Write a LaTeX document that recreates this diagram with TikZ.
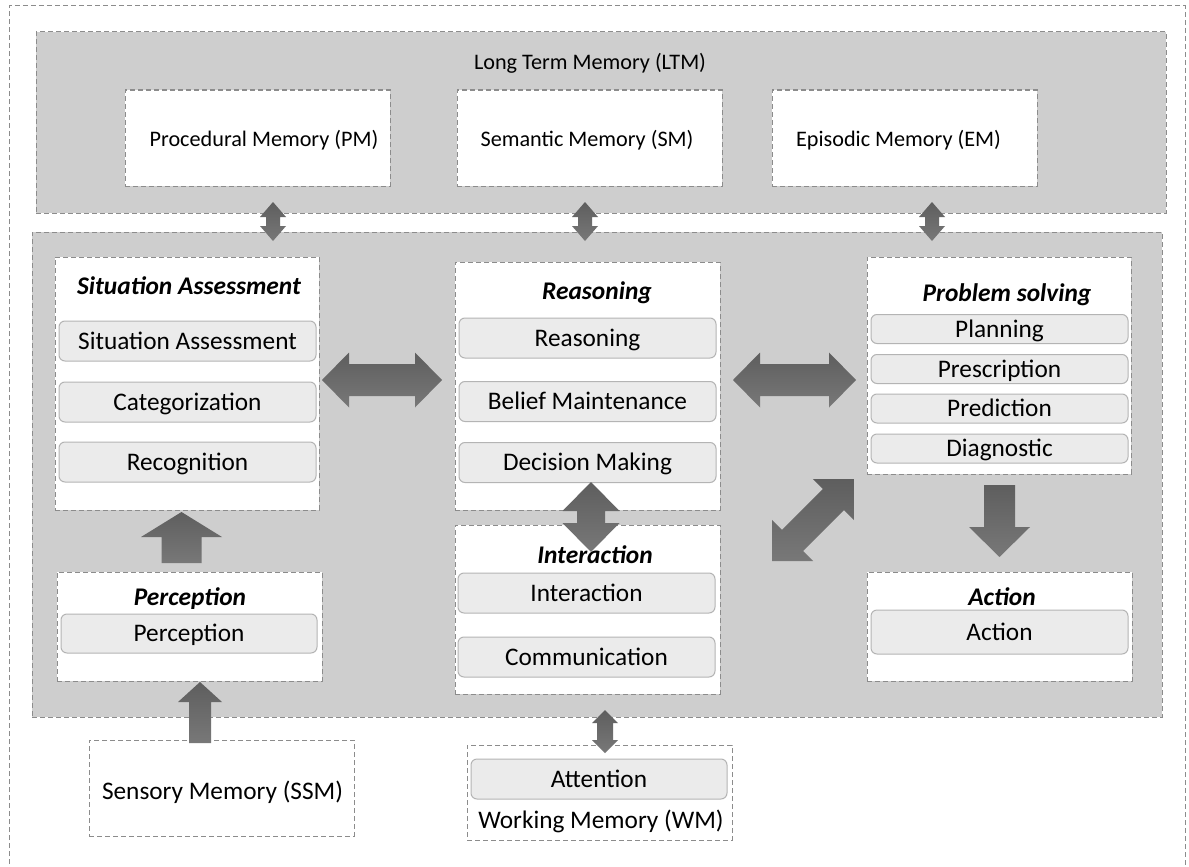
\documentclass[tikz,border=0pt]{standalone}
\usepackage{fontspec}
\setmainfont{Carlito}
\usetikzlibrary{calc}

\definecolor{bggray}{HTML}{CECECE}
\definecolor{dashcol}{HTML}{8C8C8C}
\definecolor{subfill}{HTML}{EBEBEB}
\definecolor{subline}{HTML}{B4B4B4}
\definecolor{arrowA}{HTML}{5E5E5E}
\definecolor{arrowB}{HTML}{787878}

\newcommand\fsub{\fontsize{25.3pt}{29pt}\selectfont}
\newcommand\fttl{\fontsize{25.4pt}{29pt}\selectfont\bfseries\itshape}
\newcommand\flbl{\fontsize{22.2pt}{26pt}\selectfont}
\newcommand\fbig{\fontsize{25.3pt}{29pt}\selectfont}

% block double arrow between two tips:
% #1,#2 tips; #3 shaft half width; #4 head half width; #5 head length
\newcommand\dblarrow[5]{%
  \path ($(#1)!#5!(#2)$) coordinate (ha) ($(#2)!#5!(#1)$) coordinate (hb);
  \shade[arrowshade] (#1) -- ($(ha)!#4!90:(#2)$) -- ($(ha)!#3!90:(#2)$)
    -- ($(hb)!#3!-90:(#1)$) -- ($(hb)!#4!-90:(#1)$) -- (#2)
    -- ($(hb)!#4!90:(#1)$) -- ($(hb)!#3!90:(#1)$)
    -- ($(ha)!#3!-90:(#2)$) -- ($(ha)!#4!-90:(#2)$) -- cycle;
}
% block single arrow: #1 tail, #2 tip; #3 shaft half width; #4 head half width; #5 head length
\newcommand\sglarrow[5]{%
  \path ($(#2)!#5!(#1)$) coordinate (hb);
  \shade[arrowshade] ($(#1)!#3!90:(#2)$) -- ($(hb)!#3!-90:(#1)$)
    -- ($(hb)!#4!-90:(#1)$) -- (#2) -- ($(hb)!#4!90:(#1)$)
    -- ($(hb)!#3!90:(#1)$) -- ($(#1)!#3!-90:(#2)$) -- cycle;
}

\begin{document}
\begin{tikzpicture}[x=1pt,y=-1pt,
  capbig/.style={text height=20pt, text depth=4pt},
  capsmall/.style={text height=18pt, text depth=4pt},
  dbox/.style={draw=dashcol, dash pattern=on 5pt off 3pt, line width=1pt,
    fill=white, inner sep=0pt, outer sep=0pt},
  panel/.style={dbox, fill=bggray},
  entry/.style={draw=subline, fill=subfill, rounded corners=6pt, line width=1pt,
    inner sep=0pt, minimum width=257pt, minimum height=40pt, font=\fsub, capbig},
  headtext/.style={inner sep=0pt, font=\fttl, capbig},
  lbltext/.style={inner sep=0pt, font=\flbl, capsmall},
  bigtext/.style={inner sep=0pt, font=\fbig, capbig},
  arrowshade/.style={top color=arrowA, bottom color=arrowB, draw=none}
]
\useasboundingbox (0,0) rectangle (1189,867);
\fill[white] (0,0) rectangle (1189,867);

% outer frame
\draw[draw=dashcol, dash pattern=on 5pt off 3pt, line width=1pt]
  (9,880) -- (9,6) -- (1185,6) -- (1185,880);

% long term memory
\node[panel, minimum width=1130pt, minimum height=181pt] (ltm) at (601,122.5) {};
\node[lbltext] (ltmlabel) at (590,63) {Long Term Memory (LTM)};
\node[dbox, minimum width=265pt, minimum height=96pt] (pm) at (257.5,138) {};
\node[dbox, minimum width=265pt, minimum height=96pt] (sm) at (589.5,138) {};
\node[dbox, minimum width=265pt, minimum height=96pt] (em) at (904.5,138) {};
\node[lbltext] (pmtext) at (264,139.5) {Procedural Memory (PM)};
\node[lbltext] (smtext) at (587,139.5) {Semantic Memory (SM)};
\node[lbltext] (emtext) at (898.5,139.5) {Episodic Memory (EM)};

% processing panel
\node[panel, minimum width=1130pt, minimum height=485pt] (proc) at (597,474.5) {};

% situation assessment
\node[dbox, minimum width=264pt, minimum height=253pt] (sa) at (187,383.5) {};
\node[headtext] (sat) at (189,286.5) {Situation Assessment};
\node[entry] (sa1) at (187.5,341) {Situation Assessment};
\node[entry] (sa2) at (187.5,402) {Categorization};
\node[entry] (sa3) at (187.5,462) {Recognition};

% reasoning
\node[dbox, minimum width=265pt, minimum height=248pt] (rs) at (587.5,386) {};
\node[headtext] (rst) at (597,291.5) {Reasoning};
\node[entry] (rs1) at (587.5,338) {Reasoning};
\node[entry] (rs2) at (587.5,401.5) {Belief Maintenance};
\node[entry] (rs3) at (587.5,462.5) {Decision Making};

% problem solving
\node[dbox, minimum width=264pt, minimum height=217pt] (ps) at (999,365.5) {};
\node[headtext] (pst) at (1007,293.5) {Problem solving};
\node[entry, minimum height=29pt] (ps1) at (999.5,329) {Planning};
\node[entry, minimum height=29pt] (ps2) at (999.5,369) {Prescription};
\node[entry, minimum height=29pt] (ps3) at (999.5,408.5) {Prediction};
\node[entry, minimum height=29pt] (ps4) at (999.5,448.5) {Diagnostic};

% action
\node[dbox, minimum width=265pt, minimum height=109pt] (ac) at (999.5,626.5) {};
\node[headtext] (act) at (1002,597.5) {Action};
\node[entry, minimum height=44pt] (ac1) at (999.5,632) {Action};

% interaction
\node[dbox, minimum width=265pt, minimum height=169pt] (it) at (587.5,609.5) {};
\node[headtext] (itt) at (595,555) {Interaction};
\node[entry] (it1) at (586.5,593) {Interaction};
\node[entry] (it2) at (586.5,657) {Communication};

% perception
\node[dbox, minimum width=265pt, minimum height=109pt] (pc) at (189.5,626.5) {};
\node[headtext] (pct) at (190,597.5) {Perception};
\node[entry, minimum width=256pt, minimum height=39pt] (pc1) at (189,633.5) {Perception};

% sensory and working memory
\node[dbox, minimum width=265pt, minimum height=96pt] (ssm) at (221.5,788) {};
\node[bigtext] (ssmtext) at (222.5,791) {Sensory Memory (SSM)};
\node[dbox, minimum width=265pt, minimum height=95pt] (wm) at (599.5,792.5) {};
\node[entry, minimum width=256pt] (wm1) at (599,779) {Attention};
\node[bigtext] (wmlabel) at (601,820) {Working Memory (WM)};

% arrow end points
\coordinate (pmA) at (273,202);  \coordinate (pmB) at (273,241);
\coordinate (smA) at (585,202);  \coordinate (smB) at (585,241);
\coordinate (emA) at (932,202);  \coordinate (emB) at (932,241);
\coordinate (saE) at (322,380);  \coordinate (rsW) at (442,380);
\coordinate (rsE) at (733,380);  \coordinate (psW) at (856,380);
\coordinate (rsS) at (591,482);  \coordinate (itN) at (591,552);
\coordinate (dgA) at (772,561);  \coordinate (dgB) at (854,479);
\coordinate (psS) at (999.5,485); \coordinate (acN) at (999.5,557);
\coordinate (pcN) at (181.5,563); \coordinate (saS) at (181.5,512);
\coordinate (ssmN) at (200,743); \coordinate (pcS) at (200,682);
\coordinate (prS) at (605,710);  \coordinate (wmN) at (605,753);

% arrows
\dblarrow{pmA}{pmB}{7pt}{13pt}{15pt}
\dblarrow{smA}{smB}{7pt}{13pt}{15pt}
\dblarrow{emA}{emB}{7pt}{13pt}{15pt}
\dblarrow{saE}{rsW}{16pt}{27.5pt}{27pt}
\dblarrow{rsE}{psW}{16pt}{27.5pt}{27pt}
\dblarrow{rsS}{itN}{14pt}{28.5pt}{29pt}
\dblarrow{dgA}{dgB}{15pt}{29pt}{29pt}
\sglarrow{psS}{acN}{15.5pt}{30.5pt}{30pt}
\sglarrow{pcN}{saS}{20pt}{40.5pt}{25pt}
\sglarrow{ssmN}{pcS}{11pt}{22pt}{20pt}
\dblarrow{prS}{wmN}{8pt}{13pt}{13pt}
\end{tikzpicture}
\end{document}
